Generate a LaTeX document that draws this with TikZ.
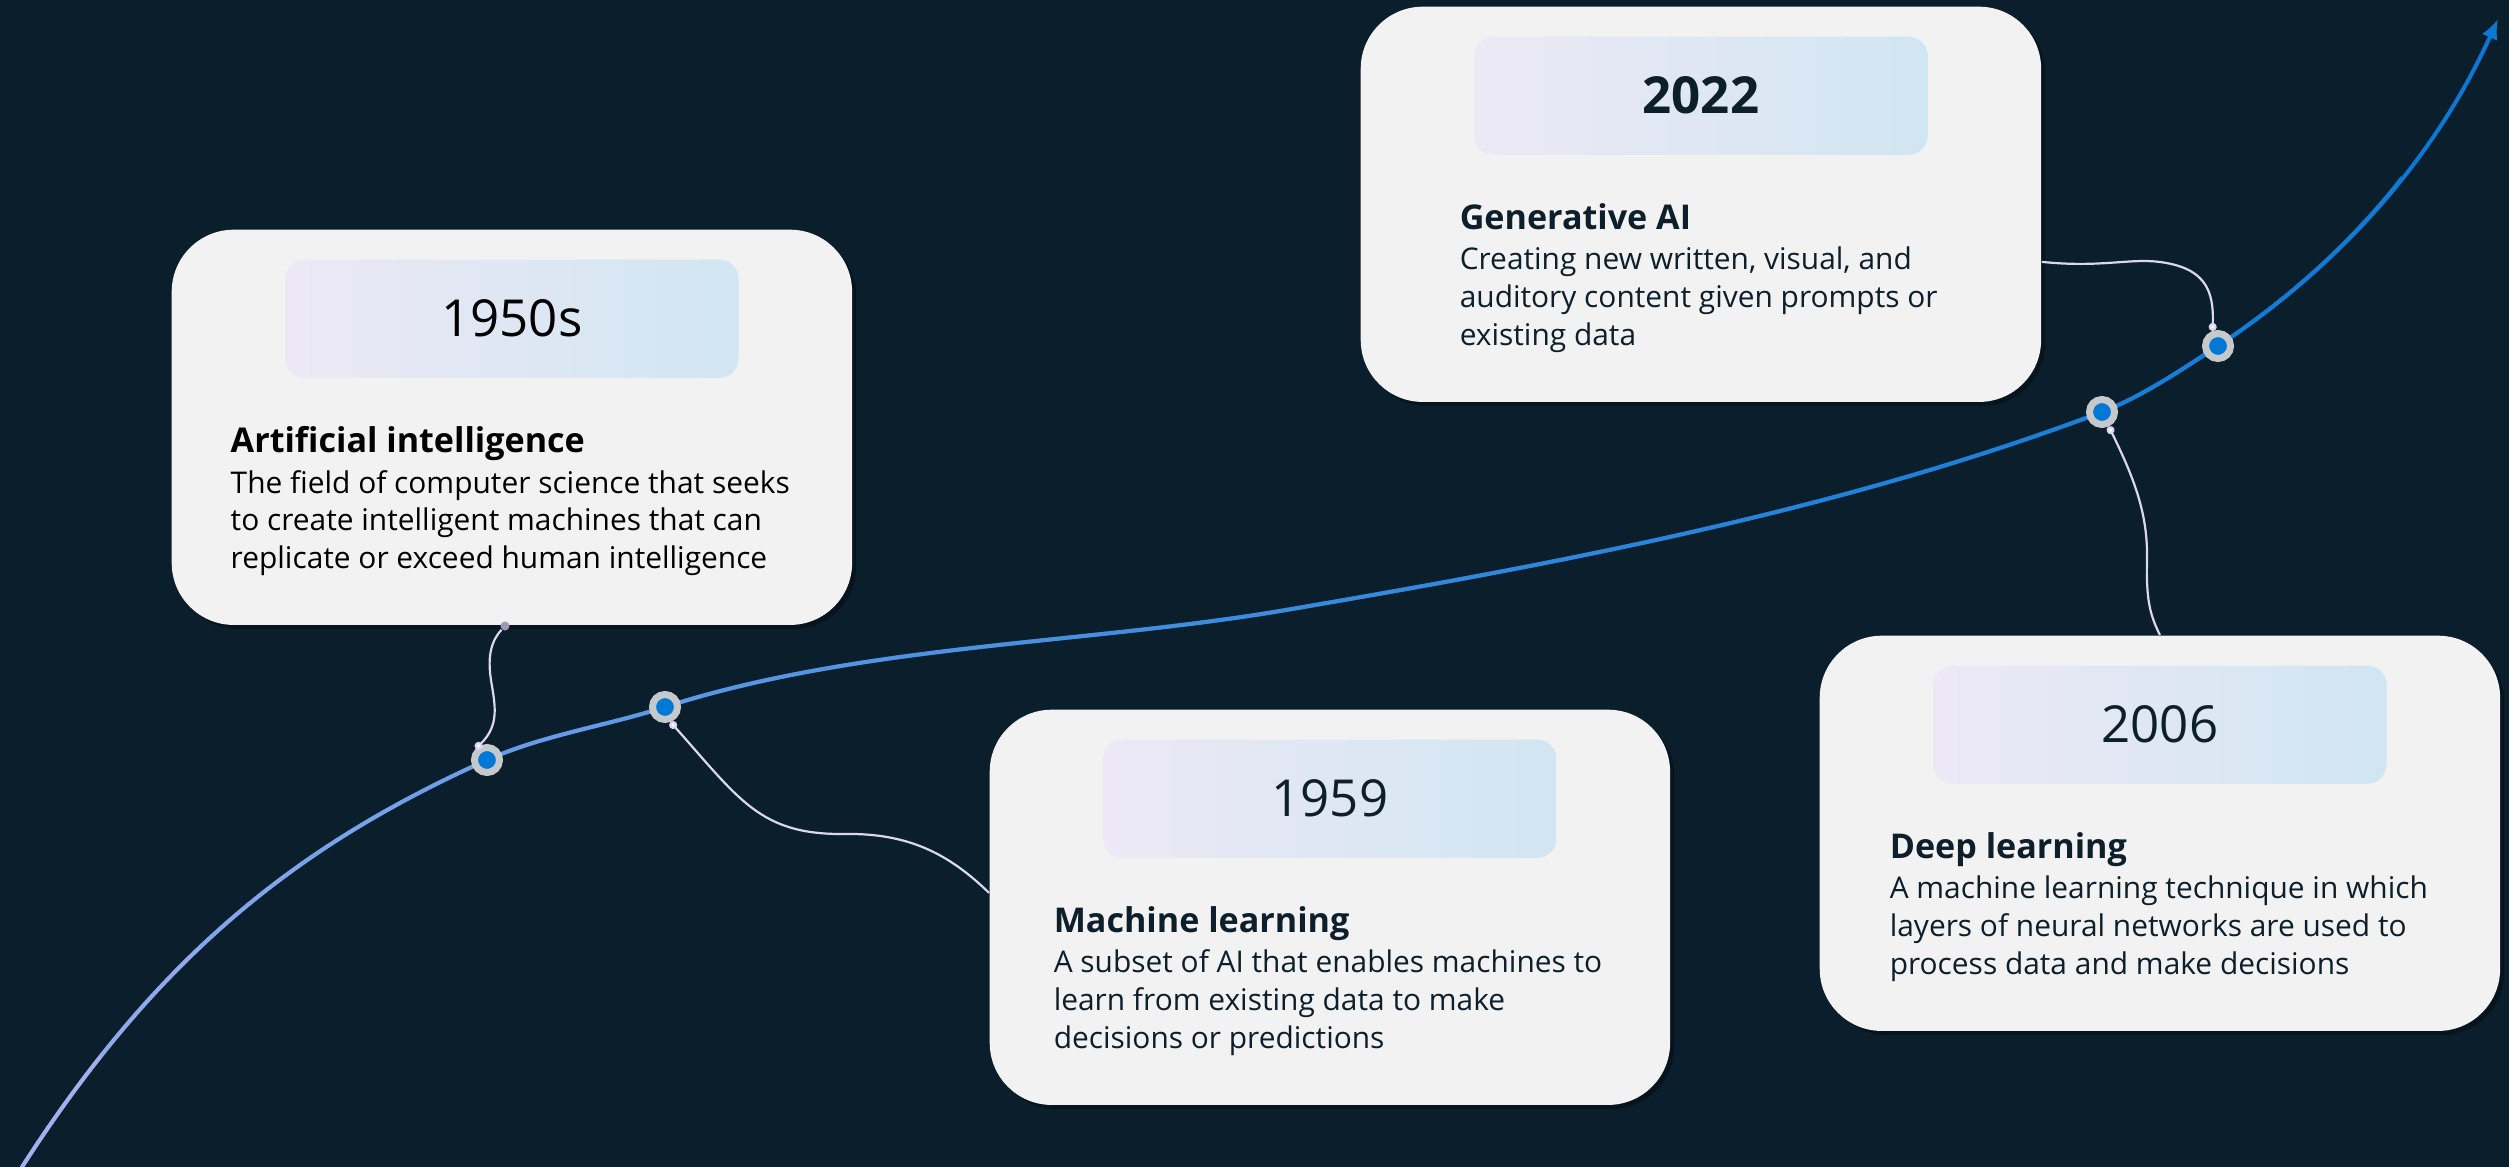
\documentclass[tikz,border=0pt]{standalone}
\usepackage{fontspec}
\setmainfont{Open Sans}
\usetikzlibrary{positioning, calc, shadows, arrows.meta}
\definecolor{bg_navy}{HTML}{0B1E2B}
\definecolor{card_gray}{HTML}{F2F2F2}
\definecolor{hdr_lav}{HTML}{EDE8F5}
\definecolor{hdr_sky}{HTML}{D0E6F2}
\definecolor{ink_navy}{HTML}{0E1F2C}
\definecolor{tl_lav}{HTML}{BDB8F0}
\definecolor{tl_blue}{HTML}{0A78D4}
\definecolor{ring_gray}{HTML}{C6C9CC}
\definecolor{dot_blue}{HTML}{0078D4}
\definecolor{link_lav}{HTML}{DAD7F3}
\definecolor{pin_gray}{HTML}{9E9AB6}
\newcommand{\yearfont}{\fontsize{14.5}{17}\selectfont}
\newcommand{\titlefont}{\fontsize{9.7}{12}\selectfont\bfseries}
\newcommand{\bodyfont}{\fontsize{8.5}{10.8}\selectfont}

\begin{document}
\begin{tikzpicture}[
                x=0.01cm, y=-0.01cm,
                card/.style={rectangle, rounded corners=0.62cm, fill=card_gray, minimum width=6.8cm, minimum height=3.95cm, anchor=north west, drop shadow={shadow xshift=0.04cm, shadow yshift=-0.04cm, opacity=0.3, fill=black}},
                year/.style={rectangle, rounded corners=0.19cm, left color=hdr_lav, right color=hdr_sky, minimum width=4.53cm, minimum height=1.18cm, text=ink_navy, font=\yearfont},
                desc/.style={anchor=north west, inner sep=0pt, align=left, text=ink_navy, font=\bodyfont},
                dot/.style={circle, fill=dot_blue, draw=ring_gray, line width=0.07cm, minimum size=0.25cm, inner sep=0pt},
                pin/.style={circle, fill=pin_gray, minimum size=0.09cm, inner sep=0pt},
                link/.style={draw=link_lav, line width=0.022cm, -{Circle[length=0.08cm, fill=white]}},
                timeline/.style={line width=0.04cm, line cap=round}
            ]
                \useasboundingbox (0,0) rectangle (2509,1167);
                \fill[bg_navy] (0,0) rectangle (2509,1167);

                % Timeline
                \draw[timeline, tl_blue, -{Latex[length=0.2cm, width=0.17cm]}, save path=\tlcurve] (22,1167) .. controls (162,949) and (305,842) .. (487,760) .. controls (543,735) and (606,726) .. (665,707) .. controls (858,645) and (1083,644) .. (1280,611) .. controls (1556,564) and (1840,511) .. (2102,412) .. controls (2143,396) and (2181,370) .. (2218,346) .. controls (2343,263) and (2436,156) .. (2498,19);
                \foreach \i in {0,...,23} {
                    \pgfmathsetmacro{\pct}{100*sqrt((\i+0.5)/25)}
                    \begin{scope}
                        \clip (\i*100,-50) rectangle (\i*100+101,1250);
                        \draw[timeline, tl_blue!\pct!tl_lav, use path=\tlcurve];
                    \end{scope}
                }

                % Cards
                \node (ai_card) [card] at (171,229) {};
                \node (ai_year) [year, below=0.3cm of ai_card.north, text=black] {1950s};
                \node (ai_text) [desc, text=black] at ([shift={(0.59cm,-1.97cm)}]ai_card.north west) {{\titlefont Artificial intelligence}\\[0.6pt] The field of computer science that seeks\\ to create intelligent machines that can\\ replicate or exceed human intelligence};

                \node (ml_card) [card] at (989,709) {};
                \node (ml_year) [year, below=0.3cm of ml_card.north] {1959};
                \node (ml_text) [desc] at ([shift={(0.64cm,-1.97cm)}]ml_card.north west) {{\titlefont Machine learning}\\[0.6pt] A subset of AI that enables machines to\\ learn from existing data to make\\ decisions or predictions};

                \node (dl_card) [card] at (1819,635) {};
                \node (dl_year) [year, below=0.3cm of dl_card.north] {2006};
                \node (dl_text) [desc] at ([shift={(0.70cm,-1.97cm)}]dl_card.north west) {{\titlefont Deep learning}\\[0.6pt] A machine learning technique in which\\ layers of neural networks are used to\\ process data and make decisions};

                \node (gen_card) [card] at (1360,6) {};
                \node (gen_year) [year, below=0.3cm of gen_card.north, font=\yearfont\bfseries] {2022};
                \node (gen_text) [desc] at ([shift={(0.99cm,-1.97cm)}]gen_card.north west) {{\titlefont Generative AI}\\[0.6pt] Creating new written, visual, and\\ auditory content given prompts or\\ existing data};

                % Dots on the timeline
                \node (ai_dot) [dot] at (487,760) {};
                \node (ml_dot) [dot] at (665,707) {};
                \node (dl_dot) [dot] at (2102,412) {};
                \node (gen_dot) [dot] at (2218,346) {};
                \node (ai_pin) [pin] at (505,626) {};

                % Links
                \draw[link] (ai_pin) .. controls (492,640) and (487,655) .. (491,680) .. controls (495,705) and (500,725) .. (ai_dot.north west);
                \draw[link] ([yshift=0.145cm]ml_card.west) .. controls (950,855) and (910,833) .. (845,834) .. controls (760,835) and (740,800) .. (ml_dot.-70);
                \draw[link] (dl_card.north) .. controls (2150,615) and (2146,600) .. (2147,560) .. controls (2148,515) and (2135,480) .. (dl_dot.-65);
                \draw[link] ([yshift=-0.575cm]gen_card.east) .. controls (2100,268) and (2130,258) .. (2160,262) .. controls (2205,268) and (2214,290) .. (gen_dot.110);
            \end{tikzpicture}
\end{document}
